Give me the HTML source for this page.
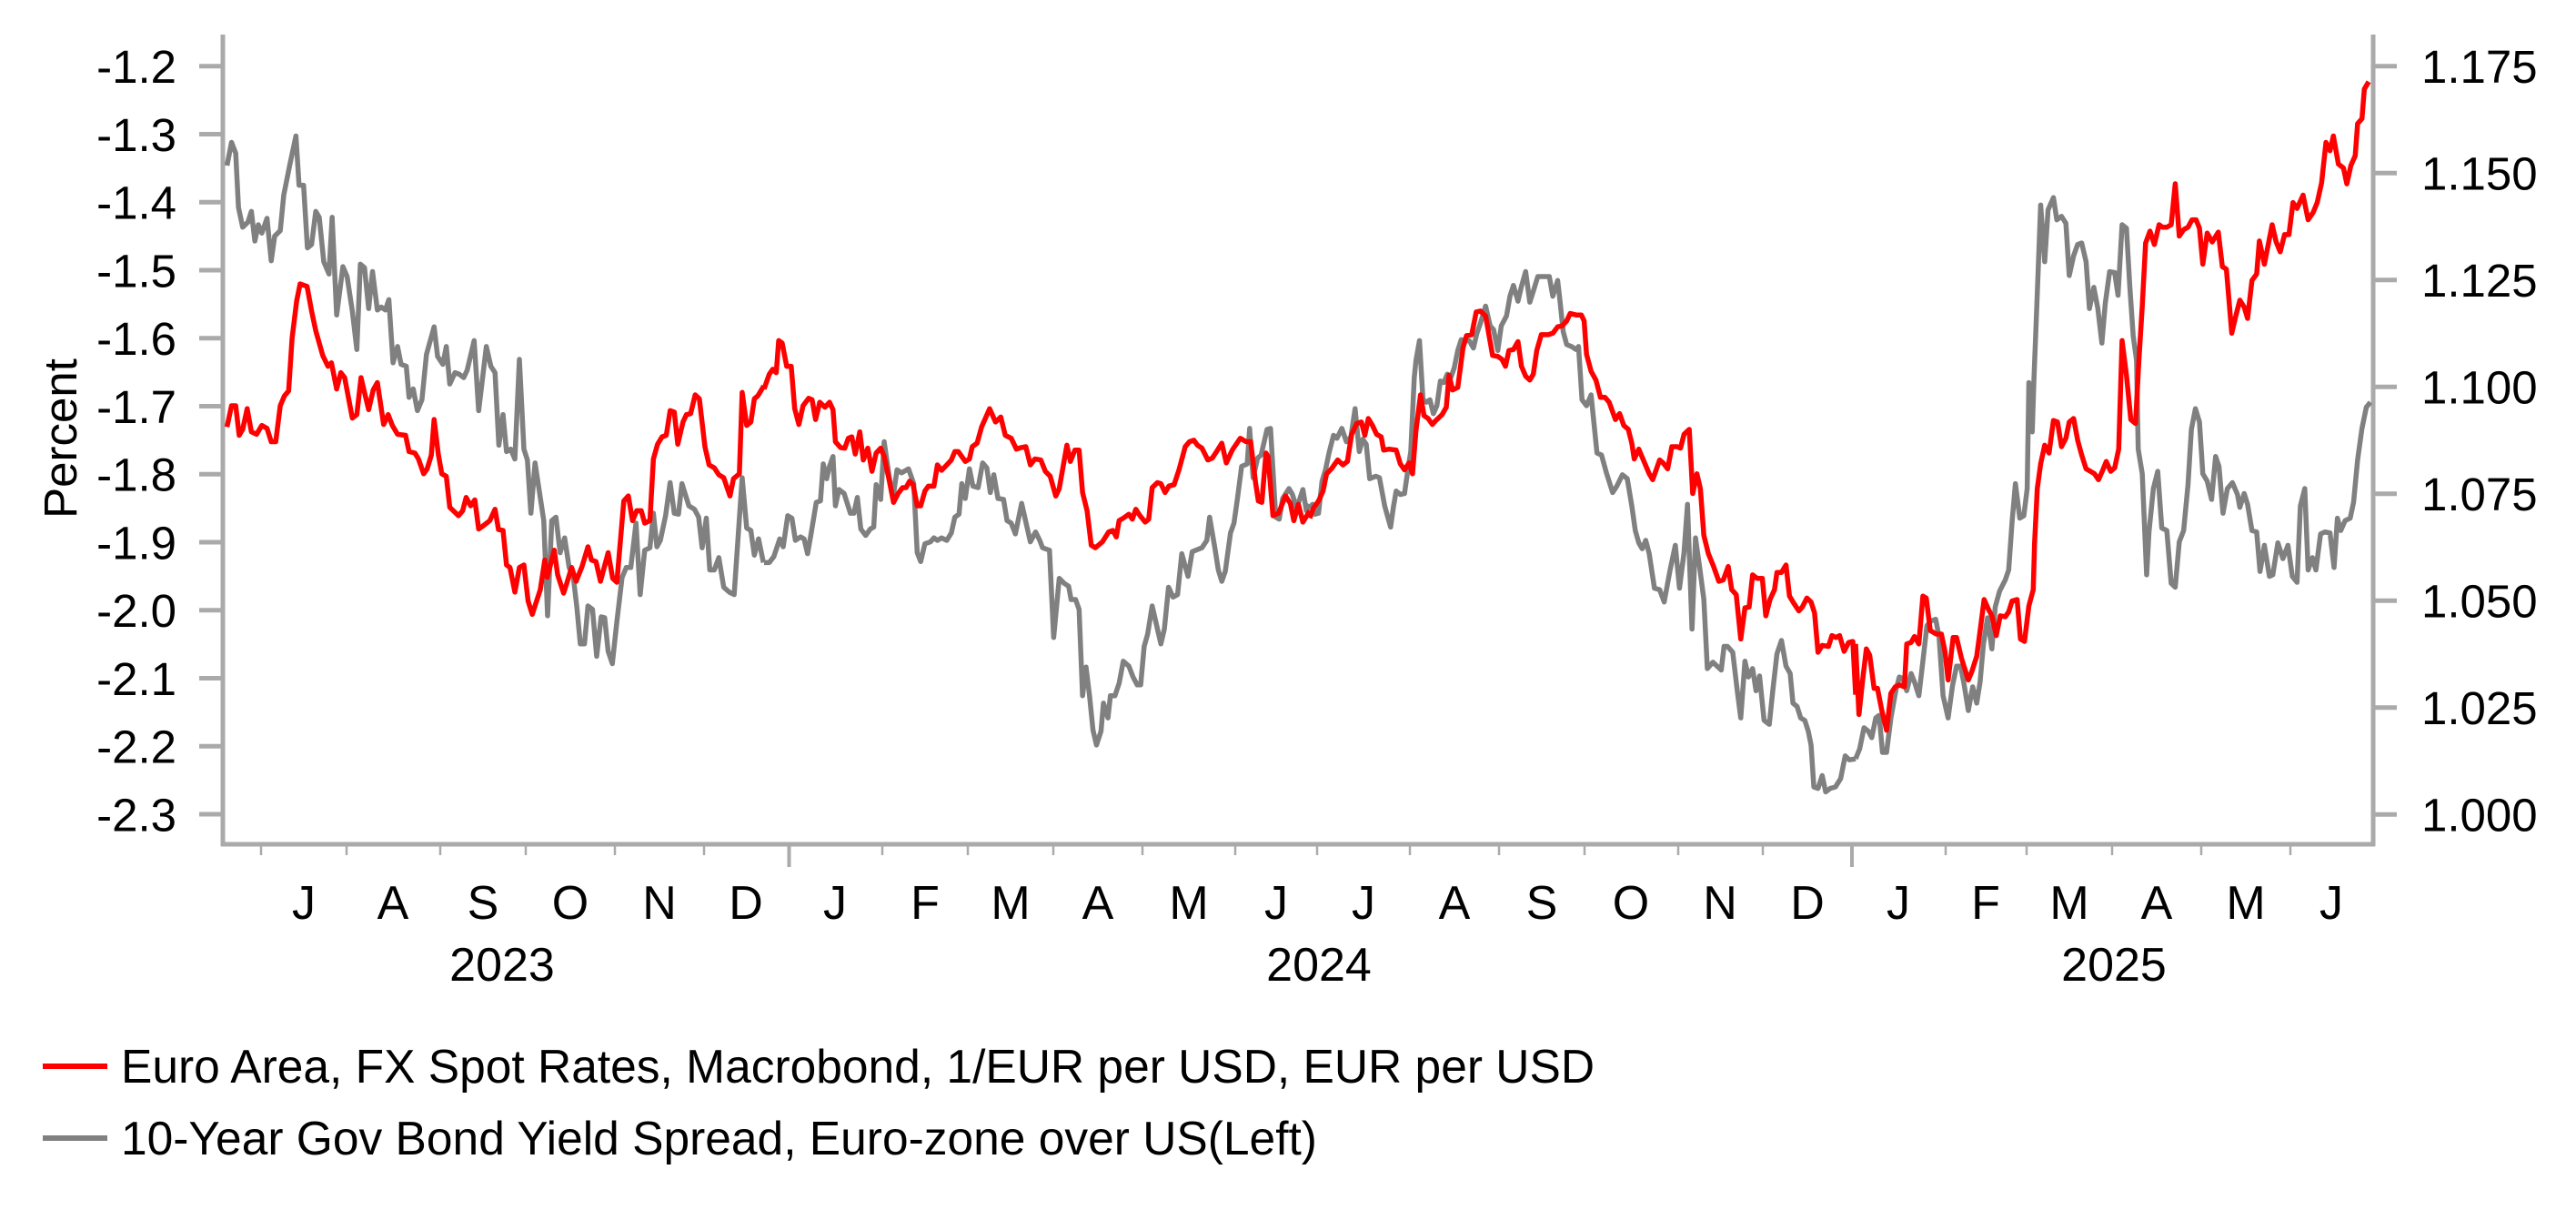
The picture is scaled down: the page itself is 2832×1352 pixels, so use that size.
<!DOCTYPE html>
<html><head><meta charset="utf-8"><style>
html,body{margin:0;padding:0;background:#fff;}
svg{display:block;}
text{font-family:"Liberation Sans",Arial,sans-serif;fill:#000;}
</style></head><body>
<svg width="2832" height="1352" viewBox="0 0 2832 1352" xmlns="http://www.w3.org/2000/svg">
<rect width="2832" height="1352" fill="#fff"/>
<!-- axes -->
<g stroke="#aaaaaa" fill="none">
<line x1="245" y1="38" x2="245" y2="930" stroke-width="5"/>
<line x1="2609" y1="38" x2="2609" y2="930" stroke-width="5"/>
<line x1="243" y1="928" x2="2611" y2="928" stroke-width="5"/>
<g stroke-width="5">
<line x1="219" x2="245" y1="72.7" y2="72.7"/><line x1="219" x2="245" y1="147.5" y2="147.5"/>
<line x1="219" x2="245" y1="222.2" y2="222.2"/><line x1="219" x2="245" y1="297" y2="297"/>
<line x1="219" x2="245" y1="371.7" y2="371.7"/><line x1="219" x2="245" y1="446.5" y2="446.5"/>
<line x1="219" x2="245" y1="521.2" y2="521.2"/><line x1="219" x2="245" y1="596" y2="596"/>
<line x1="219" x2="245" y1="670.7" y2="670.7"/><line x1="219" x2="245" y1="745.5" y2="745.5"/>
<line x1="219" x2="245" y1="820.2" y2="820.2"/><line x1="219" x2="245" y1="895" y2="895"/>
<line x1="2609" x2="2635" y1="72.7" y2="72.7"/><line x1="2609" x2="2635" y1="190.2" y2="190.2"/>
<line x1="2609" x2="2635" y1="307.7" y2="307.7"/><line x1="2609" x2="2635" y1="425.2" y2="425.2"/>
<line x1="2609" x2="2635" y1="542.7" y2="542.7"/><line x1="2609" x2="2635" y1="660.2" y2="660.2"/>
<line x1="2609" x2="2635" y1="777.7" y2="777.7"/><line x1="2609" x2="2635" y1="895.2" y2="895.2"/>
</g>
<g stroke-width="2.5">
<line x1="287" x2="287" y1="928" y2="940"/><line x1="381" x2="381" y1="928" y2="940"/>
<line x1="484" x2="484" y1="928" y2="940"/><line x1="578" x2="578" y1="928" y2="940"/>
<line x1="676" x2="676" y1="928" y2="940"/><line x1="774" x2="774" y1="928" y2="940"/>
<line x1="970" x2="970" y1="928" y2="940"/><line x1="1064" x2="1064" y1="928" y2="940"/>
<line x1="1158" x2="1158" y1="928" y2="940"/><line x1="1256" x2="1256" y1="928" y2="940"/>
<line x1="1358" x2="1358" y1="928" y2="940"/><line x1="1448" x2="1448" y1="928" y2="940"/>
<line x1="1550" x2="1550" y1="928" y2="940"/><line x1="1648" x2="1648" y1="928" y2="940"/>
<line x1="1742" x2="1742" y1="928" y2="940"/><line x1="1845" x2="1845" y1="928" y2="940"/>
<line x1="1938" x2="1938" y1="928" y2="940"/><line x1="2139" x2="2139" y1="928" y2="940"/>
<line x1="2228" x2="2228" y1="928" y2="940"/><line x1="2322" x2="2322" y1="928" y2="940"/>
<line x1="2420" x2="2420" y1="928" y2="940"/><line x1="2518" x2="2518" y1="928" y2="940"/>
</g>
<g stroke-width="4">
<line x1="867.5" x2="867.5" y1="928" y2="953"/><line x1="2036" x2="2036" y1="928" y2="953"/>
</g>
</g>
<!-- y labels -->
<g font-size="51" text-anchor="end">
<text x="194" y="91">-1.2</text><text x="194" y="165.8">-1.3</text><text x="194" y="240.5">-1.4</text>
<text x="194" y="315.3">-1.5</text><text x="194" y="390">-1.6</text><text x="194" y="464.8">-1.7</text>
<text x="194" y="539.5">-1.8</text><text x="194" y="614.3">-1.9</text><text x="194" y="689">-2.0</text>
<text x="194" y="763.8">-2.1</text><text x="194" y="838.5">-2.2</text><text x="194" y="913.3">-2.3</text>
</g>
<g font-size="51">
<text x="2662" y="91">1.175</text><text x="2662" y="208.5">1.150</text><text x="2662" y="326">1.125</text>
<text x="2662" y="443.5">1.100</text><text x="2662" y="561">1.075</text><text x="2662" y="678.5">1.050</text>
<text x="2662" y="796">1.025</text><text x="2662" y="913.5">1.000</text>
</g>
<text font-size="51" transform="translate(84,482) rotate(-90)" text-anchor="middle">Percent</text>
<!-- x labels -->
<g font-size="52" text-anchor="middle">
<text x="334" y="1010">J</text><text x="432" y="1010">A</text><text x="531" y="1010">S</text><text x="627" y="1010">O</text>
<text x="725" y="1010">N</text><text x="820" y="1010">D</text><text x="918" y="1010">J</text><text x="1017" y="1010">F</text>
<text x="1111" y="1010">M</text><text x="1207" y="1010">A</text><text x="1307" y="1010">M</text><text x="1403" y="1010">J</text>
<text x="1499" y="1010">J</text><text x="1599" y="1010">A</text><text x="1695" y="1010">S</text><text x="1793" y="1010">O</text>
<text x="1891" y="1010">N</text><text x="1987" y="1010">D</text><text x="2087" y="1010">J</text><text x="2183" y="1010">F</text>
<text x="2275" y="1010">M</text><text x="2371" y="1010">A</text><text x="2469" y="1010">M</text><text x="2563" y="1010">J</text>
<text x="552" y="1078">2023</text><text x="1450" y="1078">2024</text><text x="2324" y="1078">2025</text>
</g>
<!-- series -->
<g fill="none" stroke-linejoin="round" stroke-width="5.5">
<g transform="translate(240,60) scale(0.38267,0.54209)">
<polyline vector-effect="non-scaling-stroke" stroke="#808080" points="25,225 38,178 50,200 58,310 70,350 85,340 95,318 105,378 115,345 125,362 140,332 152,418 162,368 178,357 188,285 205,225 223,165 232,265 245,265 256,392 268,385 280,318 290,330 303,420 318,445 327,330 340,528 358,430 370,450 385,520 398,598 408,425 420,432 432,515 443,440 457,518 468,512 480,518 490,497 502,625 515,592 525,628 540,632 548,695 560,678 572,722 585,700 598,608 620,552 630,612 645,628 655,592 665,668 680,645 692,648 705,655 715,640 735,580 748,722 770,592 783,632 795,645 806,792 818,730 828,805 840,800 852,820 865,618 878,800 888,822 898,930 910,828 935,945 946,1138 958,945 970,938 982,1010 995,980 1008,1040 1020,1060 1030,1120 1040,1195 1052,1195 1062,1118 1075,1125 1087,1220 1100,1140 1110,1142 1120,1210 1132,1235 1145,1150 1160,1060 1172,1040 1185,1040 1200,950 1212,1095 1225,1005 1240,1000 1250,930 1260,998 1270,985 1285,935 1298,868 1310,930 1322,932 1332,870 1352,915 1368,922 1380,938 1390,1000 1402,940 1412,1045 1425,1045 1438,1020 1452,1080 1468,1090 1482,1095 1505,858 1518,960 1530,965 1540,1015 1552,982 1566,1030"/>
<polyline vector-effect="non-scaling-stroke" stroke="#ff0000" points="25,755 38,712 50,712 60,772 70,760 83,718 95,765 110,770 125,752 140,758 152,785 165,785 178,712 190,692 202,682 212,575 225,500 235,465 255,470 268,520 280,560 300,610 315,632 325,625 340,678 352,645 363,655 385,737 398,730 410,655 420,685 432,720 445,680 457,665 475,750 488,730 500,752 515,770 538,772 548,805 565,808 575,820 590,850 600,840 612,812 620,740 632,810 642,850 655,855 665,918 690,935 702,925 712,898 725,915 737,903 748,962 762,955 780,945 795,922 805,963 818,965 828,1035 838,1040 852,1090 865,1040 878,1035 890,1108 902,1135 925,1085 938,1025 945,1060 965,1005 975,1055 992,1092 1002,1070 1015,1040 1028,1068 1045,1038 1062,998 1072,1025 1085,1028 1098,1068 1120,1010 1133,1062 1145,1070 1165,905 1178,895 1190,945 1202,925 1215,925 1225,950 1240,945 1250,820 1262,790 1275,775 1287,772 1298,722 1310,725 1320,790 1335,745 1345,730 1357,728 1370,690 1382,698 1398,795 1410,832 1425,838 1438,852 1452,858 1470,895 1480,860 1497,850 1505,685 1518,752 1530,745 1540,698 1550,692 1567,672"/>
</g>
<g transform="translate(840,60) scale(0.38267,0.54209)">
<polyline vector-effect="non-scaling-stroke" stroke="#808080" points="0,1030 15,1030 28,1018 45,982 55,998 68,935 80,940 90,985 105,978 115,982 125,1012 135,972 150,908 162,905 170,830 180,860 188,835 198,815 205,915 215,882 230,890 248,930 258,930 268,898 278,962 292,975 305,962 315,958 322,872 335,902 345,785 360,858 370,900 382,842 395,848 415,840 430,870 440,1010 450,1028 462,992 478,988 488,980 498,985 510,980 525,985 538,970 548,938 560,932 568,870 578,900 590,840 600,875 615,878 628,828 640,838 650,888 660,852 672,900 688,902 698,945 710,950 722,972 740,910 765,988 780,968 792,985 800,1000 820,1005 832,1182 848,1062 862,1072 875,1078 882,1105 895,1105 905,1125 915,1300 925,1242 935,1300 945,1370 955,1400 968,1372 975,1315 988,1345 995,1300 1008,1300 1020,1275 1032,1230 1048,1240 1060,1262 1072,1278 1082,1278 1092,1200 1102,1175 1115,1118 1140,1195 1150,1165 1162,1080 1175,1100 1188,1095 1200,1012 1218,1058 1230,1008 1258,1000 1272,985 1280,938 1295,1000 1305,1045 1315,1068 1325,1048 1340,970 1350,950 1360,900 1372,835 1388,830 1395,758 1405,858 1418,818 1428,812 1445,760 1455,758 1470,938 1480,942 1490,900 1508,880 1518,892 1530,920 1548,882 1558,925 1568,912"/>
<polyline vector-effect="non-scaling-stroke" stroke="#ff0000" points="0,678 15,648 25,638 35,645 42,580 52,585 65,632 78,632 88,718 100,750 112,712 128,697 138,700 148,740 160,705 175,715 188,705 198,720 205,785 220,797 232,798 242,778 252,775 262,810 275,765 285,822 298,798 310,845 322,808 335,798 345,815 360,865 372,908 385,890 398,878 408,878 418,865 428,872 440,915 450,915 462,885 472,875 488,875 498,832 510,843 525,832 538,822 548,805 558,805 578,825 590,820 598,795 612,788 625,755 648,718 665,745 680,735 693,772 710,778 725,800 738,797 752,795 765,832 778,820 795,822 808,845 822,855 838,895 848,880 870,792 880,825 893,802 905,802 915,888 928,925 940,995 952,1000 972,988 990,968 1002,965 1012,978 1020,945 1032,940 1048,932 1058,942 1068,922 1080,935 1095,948 1105,942 1115,878 1130,868 1140,870 1152,888 1163,875 1178,872 1192,842 1210,795 1222,785 1235,782 1245,792 1258,798 1275,822 1288,818 1300,805 1315,788 1328,828 1345,802 1368,778 1385,785 1398,785 1412,868 1420,905 1430,908 1442,808 1448,815 1462,935 1478,930 1498,895 1512,910 1522,945 1535,912 1548,948 1568,925"/>
</g>
<g transform="translate(1440,60) scale(0.38267,0.54209)">
<polyline vector-effect="non-scaling-stroke" stroke="#808080" points="0,918 8,912 15,932 25,930 35,865 45,842 55,808 68,772 78,778 92,758 105,785 118,775 130,718 142,805 152,780 162,790 172,860 190,855 200,858 215,915 232,958 240,918 248,885 260,892 272,890 282,840 290,805 300,655 305,620 315,580 325,700 335,705 345,700 355,728 365,712 375,662 385,665 395,648 405,655 415,635 425,600 435,578 448,580 458,580 470,595 480,565 490,545 505,510 518,550 528,558 540,600 550,550 565,530 575,490 585,468 598,500 608,470 620,440 632,502 642,480 655,450 670,450 688,450 698,490 712,458 718,495 728,562 738,588 752,592 765,598 772,592 782,700 795,712 808,690 825,808 838,812 852,848 870,888 882,875 898,852 912,860 925,915 935,965 945,990 955,1002 965,985 975,1012 990,1082 1005,1085 1018,1110 1035,1045 1050,995 1062,1082 1075,1010 1085,912 1098,1165 1108,980 1120,1040 1132,1105 1142,1245 1158,1232 1170,1240 1182,1248 1190,1200 1200,1200 1215,1212 1228,1290 1238,1345 1250,1230 1260,1262 1272,1245 1282,1290 1292,1260 1305,1350 1320,1358 1330,1290 1342,1215 1355,1188 1368,1240 1380,1255 1388,1315 1400,1322 1410,1345 1422,1350 1432,1372 1440,1400 1448,1485 1460,1488 1472,1462 1482,1495 1495,1488 1510,1485 1525,1468 1538,1422 1550,1430 1568,1428"/>
<polyline vector-effect="non-scaling-stroke" stroke="#ff0000" points="0,940 10,920 25,905 38,885 48,850 62,840 80,822 95,832 108,825 120,770 135,748 148,745 158,772 168,738 180,752 192,770 205,775 212,802 228,800 248,802 260,830 272,842 285,828 295,850 305,762 318,690 328,732 340,738 352,750 362,742 380,730 392,715 400,650 410,680 425,675 440,595 450,570 465,568 478,522 490,520 505,530 525,610 540,612 552,618 562,632 572,600 585,598 598,582 608,632 620,652 632,660 642,648 652,600 665,568 685,568 698,565 712,552 725,550 738,540 748,525 765,528 780,528 788,540 795,608 808,642 822,660 835,695 848,695 860,705 878,740 890,728 902,752 915,760 925,788 932,820 945,800 960,825 975,850 985,862 1005,822 1015,828 1028,840 1040,795 1055,795 1065,798 1075,770 1090,760 1100,890 1112,850 1122,880 1132,975 1145,1012 1160,1038 1175,1068 1188,1065 1202,1038 1212,1085 1225,1095 1238,1185 1250,1122 1262,1120 1272,1055 1285,1062 1300,1062 1310,1138 1322,1105 1335,1085 1342,1050 1355,1050 1368,1035 1378,1098 1390,1112 1405,1128 1415,1120 1428,1102 1440,1110 1450,1132 1460,1212 1472,1198 1490,1200 1500,1178 1512,1182 1522,1178 1535,1210 1548,1192 1560,1190 1568,1298"/>
</g>
<g transform="translate(2040,60) scale(0.36990,0.54209)">
<polyline vector-effect="non-scaling-stroke" stroke="#808080" points="0,1428 12,1408 25,1365 38,1372 48,1385 60,1345 70,1340 80,1415 92,1415 105,1345 120,1288 130,1262 140,1265 152,1290 165,1255 175,1272 188,1300 200,1230 212,1158 225,1148 238,1145 248,1180 260,1300 275,1345 288,1280 300,1240 312,1240 322,1275 335,1330 348,1282 360,1315 370,1272 380,1195 392,1142 405,1205 415,1120 428,1088 445,1065 455,1045 465,948 475,870 488,940 500,935 510,880 515,665 525,765 530,660 540,485 550,305 562,420 572,315 588,290 598,335 612,328 625,342 635,448 648,408 660,385 672,382 685,420 695,515 708,472 720,515 732,585 742,505 755,440 770,442 780,488 792,345 805,352 815,470 825,570 835,620 840,800 852,850 865,1055 872,968 885,880 898,845 910,960 925,965 938,1072 950,1080 962,988 975,965 988,872 998,760 1010,718 1022,745 1032,850 1045,865 1058,902 1070,815 1080,835 1092,930 1105,880 1120,868 1135,892 1142,918 1155,890 1165,912 1178,965 1192,968 1202,1048 1215,995 1230,1058 1240,1055 1255,990 1270,1022 1285,995 1298,1058 1312,1070 1322,915 1335,880 1345,1045 1358,1020 1368,1045 1382,972 1395,968 1410,970 1422,1040 1432,940 1442,965 1455,945 1470,940 1480,908 1492,822 1505,758 1518,715 1530,705"/>
<polyline vector-effect="non-scaling-stroke" stroke="#ff0000" points="0,1195 10,1338 22,1262 32,1205 42,1218 55,1285 65,1285 78,1330 92,1370 105,1295 118,1282 130,1278 145,1282 152,1195 165,1192 175,1180 188,1195 200,1098 210,1102 222,1168 240,1175 255,1175 265,1208 275,1268 290,1182 300,1182 315,1225 335,1268 345,1252 360,1220 372,1158 382,1105 395,1125 405,1138 418,1178 430,1138 445,1140 455,1130 465,1108 480,1105 490,1185 502,1190 515,1118 528,1085 532,990 540,880 550,830 562,792 575,808 588,742 600,745 612,795 625,778 635,745 648,738 660,782 672,812 685,840 698,845 710,850 722,862 735,842 745,825 758,845 770,838 782,800 792,580 805,650 818,740 832,748 842,620 852,510 862,382 875,358 888,385 902,345 912,350 925,350 938,345 950,262 962,368 975,355 988,350 1000,335 1012,335 1022,352 1032,425 1045,362 1060,380 1078,360 1090,430 1102,435 1118,565 1130,530 1142,498 1155,512 1165,535 1178,458 1192,445 1200,378 1215,425 1238,345 1250,380 1262,400 1275,365 1288,365 1300,300 1312,312 1330,285 1345,335 1360,320 1372,300 1385,260 1398,178 1410,195 1420,165 1435,222 1450,230 1460,262 1472,225 1485,205 1492,140 1505,130 1512,70 1525,55"/>
</g>
</g>
<!-- legend -->
<line x1="47" y1="1172" x2="118" y2="1172" stroke="#ff0000" stroke-width="6"/>
<text x="133" y="1190" font-size="51.5">Euro Area, FX Spot Rates, Macrobond, 1/EUR per USD, EUR per USD</text>
<line x1="47" y1="1251" x2="118" y2="1251" stroke="#808080" stroke-width="6"/>
<text x="133" y="1269" font-size="51.5">10-Year Gov Bond Yield Spread, Euro-zone over US(Left)</text>
</svg>
</body></html>
